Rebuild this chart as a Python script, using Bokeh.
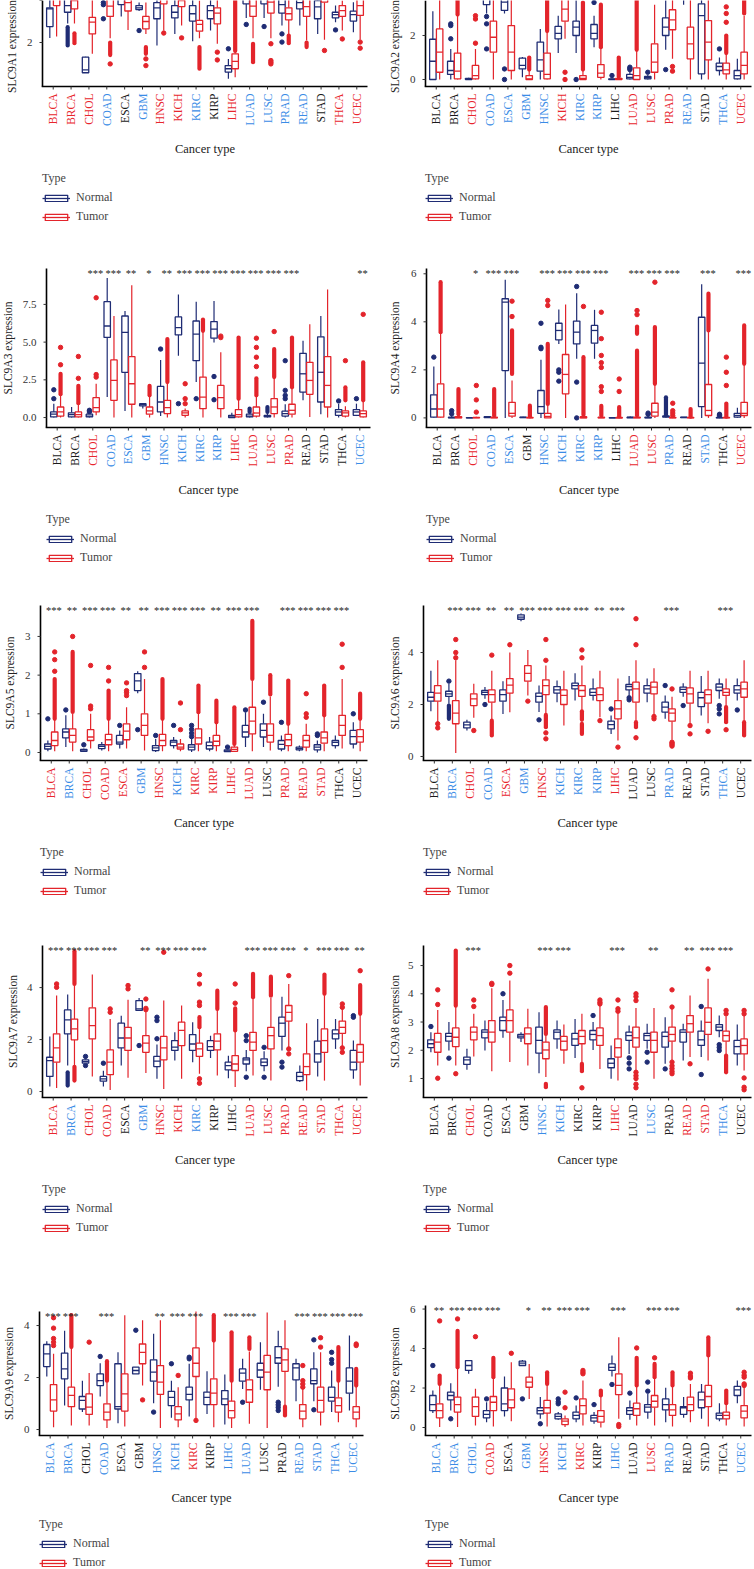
import numpy as np
from bokeh.plotting import figure
from bokeh.models import Legend, LegendItem, Range1d
from bokeh.layouts import gridplot
from bokeh.embed import file_html
from bokeh.resources import INLINE
from bokeh.core.properties import value

CANCERS = ["BLCA", "BRCA", "CHOL", "COAD", "ESCA", "GBM", "HNSC", "KICH", "KIRC",
           "KIRP", "LIHC", "LUAD", "LUSC", "PRAD", "READ", "STAD", "THCA", "UCEC"]

# each box: [lower whisker, q1, median, q3, upper whisker]
# outliers: numbers are single points, pairs are dense runs of points (from, to)

# ---------------- SLC9A1 ----------------
SLC9A1_N = [[2.22, 2.76, 3.60, 3.65, 4.4], [2.9, 3.44, 3.76, 4.1, 4.6], [0.55, 0.56, 0.70, 1.30, 1.32],
            [4.0, 4.3, 4.5, 4.7, 5.0], [3.24, 3.8, 4.1, 4.4, 4.9], [3.5, 3.57, 3.65, 3.76, 3.9],
            [1.86, 3.13, 3.65, 3.9, 4.6], [2.41, 3.17, 3.44, 3.76, 4.3], [2.06, 3.02, 3.37, 3.76, 4.5],
            [2.57, 3.13, 3.52, 3.76, 4.3], [0.27, 0.59, 0.75, 0.90, 1.22], [3.17, 3.84, 4.1, 4.4, 4.9],
            [3.17, 3.84, 4.1, 4.4, 4.9], [2.81, 3.40, 3.80, 4.1, 4.6], [2.81, 3.6, 3.9, 4.2, 4.6],
            [2.41, 3.13, 3.7, 4.0, 4.6], [2.97, 3.17, 3.33, 3.44, 3.76], [2.49, 3.02, 3.33, 3.49, 3.92]]
SLC9A1_T = [[2.29, 3.76, 4.1, 4.5, 5.3], [2.9, 3.6, 4.0, 4.4, 5.2], [1.46, 2.41, 2.97, 3.2, 4.2],
            [2.2, 3.24, 3.73, 4.2, 5.0], [2.6, 3.5, 3.9, 4.3, 5.0], [2.41, 2.65, 3.0, 3.24, 3.9],
            [2.57, 3.84, 4.2, 4.6, 5.3], [2.81, 3.71, 4.0, 4.3, 4.9], [2.2, 2.54, 2.86, 3.05, 4.0],
            [1.94, 2.89, 3.4, 3.65, 4.3], [0.35, 0.75, 1.1, 1.46, 1.55], [2.2, 3.24, 3.73, 4.1, 4.9],
            [2.2, 3.4, 3.92, 4.3, 5.0], [2.41, 3.08, 3.37, 3.65, 4.2], [2.1, 3.24, 3.71, 4.1, 4.8],
            [2.13, 3.92, 4.2, 4.6, 5.4], [2.57, 3.24, 3.52, 3.76, 4.0], [2.13, 3.29, 3.76, 4.2, 5.0]]
SLC9A1_NO = [[], [(1.86, 2.73)], [], [3.9, 3.8, 3.13], [], [2.57], [], [], [], [], [1.7], [2.86], [2.76],
             [2.41, 2.02], [], [], [2.6], []]
SLC9A1_TO = [[], [(1.97, 2.44)], [], [(1.4, 2.0), 0.98], [], [(1.46, 1.78), 1.22, 0.9], [2.45], [2.22],
             [(0.75, 1.78)], [1.54, 1.17], [(1.6, 4.0)], [(1.06, 1.94)], [1.94, 1.14, 1.06, 0.98],
             [(1.97, 2.33)], [(1.78, 2.0)], [1.62], [2.17], [2.02, 1.73]]
SLC9A1_STARS = [""] * 18
SLC9A1_LAB = "rrrbkbrrbkrbbbbkrr"

# ---------------- SLC9A2 ----------------
SLC9A2_N = [[0, 0, 0.83, 1.83, 3.1], [0, 0.23, 0.41, 0.83, 1.39], [0, 0, 0.02, 0.05, 0.08],
            [3.0, 3.4, 3.7, 4.1, 4.6], [3.0, 3.14, 3.52, 3.8, 4.2], [0.1, 0.48, 0.64, 0.97, 1.02],
            [0, 0.38, 0.89, 1.7, 2.3], [1.2, 1.85, 2.1, 2.41, 2.9], [1.2, 2.0, 2.38, 2.65, 3.6],
            [1.47, 1.85, 2.1, 2.5, 2.9], [0, 0, 0.01, 0.03, 0.06], [0, 0.03, 0.1, 0.23, 0.4],
            [0, 0.03, 0.08, 0.14, 0.2], [1.35, 2.0, 2.38, 2.8, 3.6], [3.4, 3.7, 4.0, 4.3, 4.7],
            [0, 0.26, 2.9, 3.44, 4.5], [0.18, 0.41, 0.59, 0.74, 1.0], [0, 0.03, 0.18, 0.41, 0.94]]
SLC9A2_T = [[0, 0.33, 1.24, 2.3, 4.6], [0, 0.03, 0.38, 1.2, 2.9], [0, 0.03, 0.18, 0.64, 1.39],
            [0, 1.24, 1.92, 2.65, 4.2], [0, 0.41, 1.24, 2.45, 4.4], [0, 0, 0.03, 0.18, 0.4],
            [0, 0.03, 0.23, 1.2, 2.15], [1.85, 2.65, 3.2, 3.8, 4.6], [0, 0, 0.05, 0.18, 0.4],
            [0, 0.1, 0.29, 0.68, 1.4], [0, 0, 0.01, 0.05, 0.1], [0, 0, 0.18, 0.53, 1.3],
            [0, 0.33, 0.79, 1.62, 3.4], [0.94, 2.26, 2.71, 3.17, 3.8], [0, 0.94, 1.62, 2.38, 3.9],
            [0, 0.89, 1.7, 2.68, 4.3], [0, 0.26, 0.44, 0.74, 1.17], [0, 0.26, 0.64, 1.24, 2.9]]
SLC9A2_NO = [[], [2.53, 2.45, 1.85], [], [2.86, 2.53, 1.39], [0.48, 0.0], [], [], [], [0.0], [3.5], [0.18],
             [0.45, 0.5, 0.56], [0.33], [0.45], [], [], [1.39], []]
SLC9A2_TO = [[], [(2.95, 4.0)], [1.65, 2.75, 2.9], [], [], [(0.45, 1.0)], [(2.2, 3.6)], [0.33, 0.0],
             [(0.45, 3.5)], [(1.47, 3.4)], [(0.12, 1.0)], [(1.35, 3.6)], [], [0.59, 0.38], [], [],
             [(1.2, 2.0), 2.6, 3.0, 3.3], [(3.0, 3.6)]]
SLC9A2_STARS = [""] * 18
SLC9A2_LAB = "kkrbbbbrbbkrrrbkbr"

# ---------------- SLC9A3 ----------------
SLC9A3_N = [[0, 0.04, 0.22, 0.37, 0.92], [0, 0.04, 0.2, 0.31, 0.7], [0, 0.04, 0.1, 0.22, 0.3],
            [1.36, 5.31, 6.07, 7.68, 9.25], [0.44, 3.0, 5.64, 6.73, 7.06], [0.6, 0.77, 0.85, 0.92, 0.92],
            [0.1, 0.37, 1.03, 2.06, 3.82], [4.1, 5.48, 5.96, 6.67, 8.16], [2.35, 3.77, 5.53, 6.4, 7.68],
            [4.98, 5.26, 5.86, 6.36, 7.72], [0, 0, 0.04, 0.15, 0.31], [0, 0.04, 0.1, 0.22, 0.35],
            [0, 0.04, 0.08, 0.15, 0.3], [0, 0.1, 0.26, 0.42, 0.88], [1.14, 1.69, 2.9, 4.26, 5.09],
            [0.22, 1.03, 3.0, 5.35, 6.73], [0, 0.15, 0.37, 0.53, 0.9], [0.1, 0.15, 0.37, 0.53, 0.92]]
SLC9A3_T = [[0, 0.1, 0.37, 0.7, 1.47], [0, 0.04, 0.2, 0.37, 0.92], [0.15, 0.37, 0.66, 1.32, 2.24],
            [0, 1.14, 2.46, 3.82, 6.73], [0, 0.88, 2.24, 4.04, 8.77], [0, 0.22, 0.44, 0.7, 1.4],
            [0, 0.26, 0.66, 1.14, 2.3], [0, 0.15, 0.31, 0.44, 0.6], [0, 0.59, 1.36, 2.68, 5.7],
            [0, 0.59, 1.32, 2.13, 4.32], [0, 0.04, 0.2, 0.53, 1.2], [0, 0.1, 0.3, 0.7, 1.4],
            [0, 0.26, 0.7, 1.25, 2.6], [0, 0.22, 0.48, 0.88, 1.95], [0.04, 1.54, 2.46, 3.66, 6.18],
            [0, 0.7, 2.13, 4.04, 8.49], [0, 0.1, 0.31, 0.44, 0.75], [0, 0.04, 0.26, 0.44, 1.1]]
SLC9A3_NO = [[1.25, 1.84], [], [0.48, 0.37], [], [], [], [4.54], [0.92], [1.25], [2.72, 1.18], [],
             [(0.37, 0.6)], [(0.37, 0.7)], [1.25, 1.47, 1.8, 3.77], [], [], [1.1], [1.25]]
SLC9A3_TO = [[(1.55, 2.9), 3.5, 4.65], [(0.95, 2.1), 2.6, 4.05], [2.68, 2.85, 7.94], [], [], [(1.47, 2.1)],
             [(2.35, 5.2)], [0.92, 1.25, 2.24], [(5.75, 6.5)], [5.3, 5.4], [(1.25, 5.3)],
             [(1.47, 2.6), 3.38, 4.0, 4.65, 5.26], [(2.68, 4.54), 5.7], [(2.0, 5.3)], [], [],
             [(1.14, 2.0), 3.77], [(1.14, 3.66), 6.84]]
SLC9A3_STARS = ["", "", "***", "***", "**", "*", "**", "***", "***", "***", "***", "***", "***", "***",
                "", "", "", "**"]
SLC9A3_LAB = "kkrbbbbbbbrrrrkkkb"

# ---------------- SLC9A4 ----------------
SLC9A4_N = [[0, 0.03, 0.37, 0.96, 2.14], [0, 0, 0.01, 0.03, 0.1], [0, 0, 0, 0.01, 0.02],
            [0, 0.01, 0.03, 0.05, 0.08], [0, 1.97, 4.82, 4.96, 5.75], [0, 0.01, 0.02, 0.03, 0.05],
            [0, 0.19, 0.47, 1.14, 2.42], [3.08, 3.25, 3.64, 3.94, 4.51], [2.46, 3.08, 3.57, 4.03, 5.19],
            [2.46, 3.11, 3.64, 3.85, 4.5], [0, 0, 0, 0.01, 0.02], [0, 0, 0.02, 0.03, 0.06],
            [0, 0, 0.01, 0.03, 0.08], [0, 0.03, 0.06, 0.08, 0.1], [0, 0.01, 0.02, 0.03, 0.04],
            [0, 0.47, 2.28, 4.19, 5.56], [0, 0, 0.01, 0.02, 0.04], [0, 0.03, 0.1, 0.19, 0.42]]
SLC9A4_T = [[0, 0.03, 0.37, 1.42, 3.5], [0, 0, 0.01, 0.05, 0.12], [0, 0, 0.01, 0.02, 0.05],
            [0, 0, 0.01, 0.03, 0.08], [0, 0.07, 0.19, 0.65, 1.56], [0, 0, 0.01, 0.02, 0.05],
            [0, 0, 0.06, 0.19, 0.55], [0, 1.0, 1.81, 2.64, 4.72], [0, 0, 0.01, 0.05, 0.1],
            [0, 0, 0.01, 0.03, 0.08], [0, 0, 0, 0.02, 0.05], [0, 0, 0.01, 0.03, 0.08],
            [0, 0.07, 0.24, 0.61, 1.4], [0, 0, 0.01, 0.02, 0.05], [0, 0, 0.01, 0.02, 0.04],
            [0, 0.1, 0.31, 1.39, 3.6], [0, 0, 0.01, 0.02, 0.04], [0, 0.1, 0.19, 0.65, 2.2]]
SLC9A4_NO = [[2.53], [0.17, 0.3], [], [], [], [], [2.88, 2.94, 3.94], [2.0, 1.9, 1.53], [5.47, 1.49, 0.0],
             [], [], [], [0.15, 0.2], [(0.12, 0.86)], [], [], [0.1, 0.15], []]
SLC9A4_TO = [[(3.57, 5.65)], [(0.15, 1.2)], [0.24, 0.75, 1.35], [(0.1, 1.2)], [(1.83, 3.64), 4.22, 4.86],
             [(0.06, 0.51)], [(0.58, 3.08), 4.68, 4.89], [], [(0.12, 2.53), 4.64],
             [(0.1, 0.5), 1.1, 1.3, 2.1, 2.3, 2.6, 3.3, 4.4], [(0.06, 0.45), 1.1, 1.62],
             [(0.1, 2.8), (3.5, 3.8), 4.3, 4.47], [(1.42, 3.78), 5.65], [0.1, 0.2, 0.3, 0.61],
             [(0.05, 0.37)], [(3.64, 5.17)], [(0.05, 0.6), 1.35, 1.9, 2.53], [(2.25, 3.85)]]
SLC9A4_STARS = ["", "", "*", "***", "***", "", "***", "***", "***", "***", "", "***", "***", "***", "",
                "***", "", "***"]
SLC9A4_LAB = "kkrbbkbbbbkrrbkbkr"

# ---------------- SLC9A5 ----------------
SLC9A5_N = [[0.03, 0.09, 0.16, 0.22, 0.31], [0.14, 0.38, 0.53, 0.61, 0.96], [0.02, 0.03, 0.06, 0.08, 0.1],
            [0.05, 0.1, 0.16, 0.2, 0.27], [0.1, 0.22, 0.27, 0.44, 0.57], [1.53, 1.6, 1.85, 2.04, 2.1],
            [0.01, 0.05, 0.12, 0.18, 0.35], [0.1, 0.18, 0.27, 0.31, 0.4], [0.01, 0.07, 0.14, 0.2, 0.4],
            [0.03, 0.09, 0.18, 0.27, 0.4], [0.01, 0.02, 0.04, 0.07, 0.1], [0.14, 0.4, 0.53, 0.7, 1.04],
            [0.14, 0.4, 0.57, 0.74, 1.0], [0.03, 0.09, 0.21, 0.31, 0.44], [0.03, 0.07, 0.1, 0.14, 0.18],
            [0, 0.07, 0.14, 0.2, 0.31], [0.1, 0.18, 0.26, 0.31, 0.44], [0.1, 0.22, 0.41, 0.57, 0.78]]
SLC9A5_T = [[0.03, 0.18, 0.31, 0.53, 0.84], [0.03, 0.27, 0.44, 0.61, 1.0], [0.1, 0.31, 0.4, 0.59, 1.0],
            [0.03, 0.2, 0.33, 0.47, 0.84], [0.1, 0.33, 0.55, 0.74, 1.17], [0.05, 0.44, 0.7, 1.0, 1.9],
            [0.03, 0.18, 0.31, 0.47, 0.84], [0.03, 0.09, 0.14, 0.22, 0.35], [0.03, 0.22, 0.38, 0.61, 1.0],
            [0.03, 0.18, 0.29, 0.44, 0.74], [0.02, 0.03, 0.08, 0.14, 0.2], [0.03, 0.48, 0.81, 1.17, 1.86],
            [0.05, 0.27, 0.44, 0.74, 1.45], [0.03, 0.18, 0.33, 0.47, 0.72], [0.03, 0.14, 0.31, 0.44, 0.74],
            [0.03, 0.24, 0.38, 0.53, 0.94], [0.1, 0.44, 0.7, 0.96, 1.9], [0.03, 0.27, 0.41, 0.59, 0.85]]
SLC9A5_NO = [[0.87], [1.1], [0.2], [], [0.7], [0.59], [0.44], [0.7], [0.41, 0.5, 0.6, 0.7], [], [0.14],
             [1.1], [1.3], [0.78], [], [0.44, 0.48], [], [1.0]]
SLC9A5_TO = [[(0.87, 1.9), 2.1, 2.4, 2.6], [(1.05, 2.6), 3.0], [1.13, 1.2, 2.25], [(0.87, 1.6), 1.85, 2.2],
             [1.47, 1.55, 1.6, 1.8], [2.2, 2.6], [(0.87, 1.9)], [0.59, 1.28], [(1.04, 1.73)],
             [(0.78, 1.34)], [(0.22, 1.17)], [(1.9, 3.4)], [(1.5, 2.0)], [(0.74, 1.86)],
             [0.91, 1.0, 1.52], [(0.96, 1.73)], [2.2, 2.8], [(0.87, 1.52)]]
SLC9A5_STARS = ["***", "**", "***", "***", "**", "**", "***", "***", "***", "**", "***", "***", "",
                "***", "***", "***", "***", ""]
SLC9A5_LAB = "rbrrrbrbrrrrkrrrkk"

# ---------------- SLC9A6 ----------------
SLC9A6_N = [[1.74, 2.13, 2.28, 2.47, 3.3], [2.03, 2.31, 2.41, 2.51, 2.8], [1.0, 1.1, 1.22, 1.32, 1.41],
            [2.22, 2.38, 2.47, 2.54, 2.67], [1.64, 2.13, 2.38, 2.56, 2.9], [5.2, 5.28, 5.36, 5.45, 5.5],
            [1.71, 2.09, 2.31, 2.44, 2.73], [2.09, 2.44, 2.56, 2.69, 2.92], [2.15, 2.6, 2.73, 2.82, 3.2],
            [2.15, 2.35, 2.47, 2.6, 3.0], [0.87, 1.06, 1.23, 1.36, 1.58], [2.35, 2.56, 2.69, 2.77, 3.1],
            [2.09, 2.44, 2.6, 2.73, 3.0], [1.45, 1.71, 1.9, 2.09, 2.35], [2.3, 2.47, 2.58, 2.67, 2.82],
            [1.58, 1.92, 2.26, 2.47, 3.1], [2.22, 2.54, 2.67, 2.79, 3.0], [2.15, 2.44, 2.56, 2.73, 3.0]]
SLC9A6_T = [[1.28, 2.13, 2.44, 2.73, 3.7], [0.13, 1.26, 1.67, 2.15, 3.7], [1.49, 1.96, 2.22, 2.41, 2.8],
            [1.4, 2.09, 2.38, 2.56, 3.3], [1.7, 2.44, 2.75, 3.0, 4.0], [2.35, 2.9, 3.2, 3.5, 4.1],
            [1.64, 2.38, 2.73, 2.95, 3.5], [1.19, 2.0, 2.35, 2.56, 3.3], [1.77, 2.31, 2.54, 2.73, 3.5],
            [1.51, 2.15, 2.38, 2.64, 3.3], [0.62, 1.45, 1.83, 2.15, 3.0], [1.38, 2.09, 2.6, 2.86, 3.7],
            [1.58, 2.41, 2.67, 2.86, 3.4], [0.64, 1.36, 1.67, 1.83, 2.3], [1.26, 2.05, 2.41, 2.64, 3.3],
            [1.28, 2.05, 2.38, 2.56, 3.3], [1.95, 2.35, 2.47, 2.6, 3.0], [1.38, 2.28, 2.6, 2.86, 3.7]]
SLC9A6_NO = [[], [(1.45, 1.96), 2.9], [], [2.0], [], [], [1.41], [], [], [], [1.83], [2.26, 2.18], [],
             [2.73], [1.96], [], [1.96, 1.83, 1.64], [1.79]]
SLC9A6_TO = [[1.26, 1.1], [3.8, 4.0, 4.5], [1.0], [(0.81, 1.38), 3.9], [4.3], [2.13],
             [(1.13, 1.6), 0.91, 0.68, 3.7, 4.5], [], [(1.41, 1.74), (0.87, 1.26), 3.8, 4.1], [1.38],
             [0.36], [(1.13, 1.32), 0.72, 4.3, 5.3], [1.54, 1.45], [0.55, 0.5, 0.45, 0.4, 2.6],
             [1.19, 0.87], [0.97], [(1.32, 1.9), 1.03], [(0.81, 1.32)]]
SLC9A6_STARS = ["", "***", "***", "**", "**", "***", "***", "***", "***", "**", "***", "", "", "***", "",
                "", "***", ""]
SLC9A6_LAB = "kbrbrbrbbbrkkbkkbk"

# ---------------- SLC9A7 ----------------
SLC9A7_N = [[0.19, 0.58, 1.19, 1.32, 2.12], [1.0, 2.22, 2.76, 3.14, 3.73], [1.05, 1.09, 1.15, 1.22, 1.28],
            [0.19, 0.4, 0.49, 0.58, 0.8], [1.0, 1.68, 2.06, 2.63, 2.92], [3.1, 3.12, 3.18, 3.5, 3.6],
            [0.49, 0.96, 1.17, 1.35, 1.81], [1.19, 1.58, 1.71, 1.96, 2.28], [1.13, 1.58, 1.83, 2.19, 2.67],
            [1.29, 1.58, 1.73, 1.96, 2.15], [0.51, 0.83, 1.0, 1.13, 1.38], [0.78, 1.06, 1.22, 1.29, 1.6],
            [0.78, 1.0, 1.13, 1.26, 1.55], [1.58, 2.12, 2.63, 2.86, 3.65], [0.37, 0.42, 0.58, 0.74, 1.0],
            [0.58, 1.13, 1.45, 1.94, 2.79], [1.64, 2.03, 2.22, 2.37, 2.79], [0.49, 0.83, 1.13, 1.58, 1.96]]
SLC9A7_T = [[0.14, 1.13, 1.68, 2.22, 3.7], [1.0, 1.99, 2.41, 2.79, 4.1], [0.58, 2.03, 2.54, 3.22, 4.5],
            [0.06, 0.65, 1.13, 1.6, 2.79], [0.53, 1.58, 2.06, 2.47, 3.53], [0.71, 1.51, 1.86, 2.15, 3.1],
            [0.1, 1.22, 1.68, 2.12, 3.5], [0.49, 1.77, 2.35, 2.67, 3.31], [0.68, 1.35, 1.64, 1.86, 2.4],
            [0.62, 1.6, 1.94, 2.22, 3.14], [0.17, 0.81, 1.06, 1.38, 2.3], [0.62, 1.58, 1.9, 2.28, 3.6],
            [0.42, 1.64, 2.15, 2.47, 3.6], [1.71, 2.71, 3.05, 3.31, 4.14], [0.04, 0.65, 0.96, 1.45, 2.63],
            [0.42, 1.51, 1.96, 2.41, 3.7], [1.7, 2.24, 2.47, 2.71, 3.2], [0.23, 1.13, 1.51, 1.81, 2.95]]
SLC9A7_NO = [[], [(0.23, 0.74)], [1.35, 1.0], [1.09], [], [1.77], [2.03, 2.73, 2.86], [], [], [], [],
             [2.15, 1.96, 0.55], [1.7, 0.55], [1.13, 0.94], [], [], [], [2.92, 2.86]]
SLC9A7_TO = [[4.01, 4.14], [(4.14, 5.4), (0.42, 0.95)], [], [3.05, 3.18], [3.95, 4.08], [3.15, 3.2, 3.56],
             [5.36], [], [(2.47, 2.86), 3.31, 3.44, 4.14, 4.5, 0.49, 0.32], [(3.18, 3.88)],
             [(2.35, 3.2), 3.4, 4.14], [(3.63, 4.53)], [(3.69, 4.42)], [1.64, 1.45, 4.46], [],
             [(3.76, 4.5)], [3.24, 3.37, 1.68, 1.51], [(2.99, 4.1), 4.65]]
SLC9A7_STARS = ["***", "***", "***", "***", "", "**", "***", "***", "***", "", "", "***", "***", "***",
                "*", "***", "***", "**"]
SLC9A7_LAB = "rbrrkbrrbkkrrrrrrr"

# ---------------- SLC9A8 ----------------
SLC9A8_N = [[1.93, 2.09, 2.23, 2.37, 2.64], [1.99, 2.32, 2.49, 2.6, 3.0], [1.31, 1.5, 1.66, 1.76, 2.05],
            [1.99, 2.44, 2.64, 2.72, 3.05], [2.44, 2.7, 3.05, 3.17, 3.78], [2.29, 2.44, 2.5, 2.56, 2.64],
            [1.19, 1.9, 2.35, 2.82, 3.35], [2.05, 2.4, 2.64, 2.72, 3.05], [1.73, 2.17, 2.4, 2.6, 3.11],
            [2.01, 2.37, 2.56, 2.7, 3.0], [0.99, 1.38, 1.54, 1.7, 2.17], [1.87, 2.35, 2.52, 2.64, 2.88],
            [2.05, 2.35, 2.52, 2.6, 2.94], [1.52, 2.11, 2.49, 2.64, 3.17], [1.64, 2.29, 2.64, 2.72, 2.94],
            [1.76, 2.17, 2.37, 2.68, 3.05], [2.46, 2.7, 2.82, 2.91, 3.23], [1.46, 1.87, 2.13, 2.35, 2.91]]
SLC9A8_T = [[1.46, 1.93, 2.29, 2.6, 3.43], [1.46, 2.13, 2.46, 2.79, 3.55], [1.78, 2.37, 2.64, 2.82, 3.29],
            [1.26, 2.29, 2.64, 3.05, 4.2], [1.58, 2.64, 3.05, 3.43, 4.47], [1.46, 2.23, 2.58, 2.79, 3.47],
            [1.05, 1.7, 2.01, 2.29, 2.55], [1.52, 2.01, 2.32, 2.49, 2.91], [1.55, 2.23, 2.49, 2.7, 3.29],
            [1.34, 2.17, 2.52, 2.79, 3.6], [0.93, 1.76, 2.09, 2.4, 3.3], [1.25, 2.11, 2.44, 2.82, 3.5],
            [0.99, 1.93, 2.35, 2.64, 3.5], [1.64, 2.32, 2.56, 2.82, 3.5], [1.76, 2.64, 2.94, 3.23, 3.94],
            [1.64, 2.56, 2.99, 3.5, 4.53], [1.85, 2.32, 2.52, 2.68, 3.2], [1.28, 1.87, 2.17, 2.4, 3.25]]
SLC9A8_NO = [[2.84], [1.72], [], [], [4.0], [], [], [], [], [3.23], [], [1.73, 1.54, 1.34], [1.93, 1.58],
             [1.34], [], [3.55, 1.14], [2.2, 2.1, 1.99], []]
SLC9A8_TO = [[3.62, 4.14, 1.01], [(3.58, 5.53), 1.17], [3.55, 3.78], [4.33, 4.37], [4.73, 5.0], [],
             [(2.58, 3.53), (0.69, 0.81)], [], [(1.26, 1.52), 0.67], [3.64, 3.7, 3.78], [3.38, 3.47, 3.78],
             [1.22, 1.1, 1.0, 0.8, 0.67, 3.76, 3.9, 4.0], [], [3.53, 4.14, 1.58, 1.45, 1.35, 1.25, 1.17],
             [1.52], [4.88], [(1.22, 1.81), 3.29, 3.41], [3.29, 3.41, 1.02, 0.69, 0.6]]
SLC9A8_STARS = ["", "", "***", "", "", "", "***", "***", "", "", "***", "", "**", "", "**", "***", "***",
                ""]
SLC9A8_LAB = "kkrkkkbbkkrkbkrrbk"

# ---------------- SLC9A9 ----------------
SLC9A9_N = [[2.04, 2.42, 2.91, 3.27, 3.4], [0.92, 1.95, 2.33, 2.94, 3.8], [0.67, 0.79, 1.12, 1.27, 1.88],
            [1.27, 1.69, 1.88, 2.14, 2.55], [0.24, 0.79, 0.88, 2.53, 2.97], [2.14, 2.14, 2.27, 2.4, 2.4],
            [1.01, 1.86, 2.21, 2.68, 3.68], [0.45, 0.92, 1.24, 1.47, 1.88], [0.5, 1.14, 1.35, 1.63, 2.53],
            [0.6, 0.96, 1.24, 1.44, 2.24], [0.19, 0.96, 1.18, 1.5, 2.12], [1.56, 1.86, 2.17, 2.33, 2.72],
            [1.53, 2.01, 2.29, 2.55, 3.36], [1.65, 2.55, 2.76, 3.19, 3.8], [1.09, 1.91, 2.37, 2.53, 2.72],
            [1.09, 1.76, 1.88, 2.33, 2.97], [0.67, 1.09, 1.24, 1.63, 2.27], [0.73, 1.4, 1.86, 2.37, 3.62]]
SLC9A9_T = [[0.09, 0.71, 1.14, 1.73, 2.91], [0.15, 0.88, 1.31, 1.63, 3.1], [0.15, 0.58, 0.86, 1.37, 2.17],
            [0.06, 0.37, 0.67, 0.99, 1.85], [0.12, 0.71, 1.37, 2.14, 4.4], [1.69, 2.53, 2.97, 3.29, 4.2],
            [0.06, 1.35, 1.82, 2.46, 4.2], [0.09, 0.37, 0.6, 0.88, 1.63], [0.4, 2.04, 2.55, 3.14, 4.8],
            [0.09, 0.96, 1.4, 1.95, 3.4], [0.06, 0.45, 0.73, 1.09, 1.85], [0.22, 1.05, 1.53, 1.91, 3.0],
            [0.06, 1.53, 2.21, 2.85, 4.5], [0.9, 2.24, 2.68, 3.1, 4.2], [0.09, 0.41, 0.71, 0.96, 1.6],
            [0.15, 0.67, 1.12, 1.63, 2.97], [0.28, 0.67, 0.92, 1.22, 1.85], [0.09, 0.41, 0.67, 0.88, 1.65]]
SLC9A9_NO = [[], [], [], [2.81], [], [3.82], [0.67], [2.53], [2.72, 2.78], [], [], [1.05], [],
             [1.05, 0.95, 0.85, 0.73], [], [3.45, 0.76], [2.55, 2.69, 2.97], []]
SLC9A9_TO = [[3.23, 3.36, 3.5, 3.9, 4.3], [(3.17, 4.4)], [3.36], [(1.88, 2.63)], [], [1.14], [], [2.08],
             [0.35], [(3.42, 4.4)], [(1.88, 3.74)], [(3.1, 3.55)], [], [(0.54, 0.88)],
             [1.63, 1.75, 1.88, 2.46], [3.17, 3.53], [(1.88, 3.17)], [(1.69, 2.33), 3.23, 3.29]]
SLC9A9_STARS = ["***", "***", "", "***", "", "", "**", "***", "***", "", "***", "***", "", "", "***",
                "***", "***", "***"]
SLC9A9_LAB = "bbkbkkbbrkbbkkbbbb"

# ---------------- SLC9B2 ----------------
SLC9B2_N = [[0.73, 0.86, 1.16, 1.62, 1.87], [0.86, 1.4, 1.62, 1.79, 2.24], [2.72, 2.89, 3.14, 3.39, 3.39],
            [0.27, 0.49, 0.66, 0.86, 1.28], [0.56, 0.86, 1.2, 2.0, 2.58], [3.14, 3.14, 3.26, 3.36, 3.42],
            [0.44, 0.69, 0.86, 1.0, 1.54], [0.39, 0.44, 0.56, 0.69, 0.78], [0.27, 0.44, 0.61, 0.78, 1.11],
            [0.19, 0.32, 0.49, 0.61, 0.78], [2.58, 2.89, 3.05, 3.22, 3.65], [0.39, 0.66, 0.86, 1.0, 1.37],
            [0.44, 0.78, 1.03, 1.16, 1.7], [0.27, 0.89, 1.16, 1.45, 2.01], [0.49, 0.66, 1.0, 1.06, 1.54],
            [0.44, 1.0, 1.4, 1.79, 2.21], [0.32, 0.44, 0.61, 0.73, 1.23], [1.23, 1.62, 1.91, 2.08, 2.38]]
SLC9B2_T = [[0.02, 0.49, 0.86, 1.2, 2.15], [0.02, 0.78, 1.16, 1.54, 3.0], [0.1, 0.56, 1.06, 1.54, 1.96],
            [0.05, 0.86, 1.28, 1.57, 2.5], [0.32, 1.0, 1.4, 1.96, 3.31], [1.45, 2.04, 2.3, 2.55, 3.22],
            [0.05, 0.73, 1.0, 1.37, 2.15], [0.02, 0.15, 0.32, 0.44, 0.61], [0.1, 0.69, 1.11, 1.45, 2.38],
            [0, 0.27, 0.56, 0.86, 1.6], [0.44, 1.67, 2.13, 2.72, 4.57], [0.1, 0.61, 0.95, 1.23, 2.1],
            [0.1, 1.03, 1.33, 1.62, 2.5], [0.05, 0.61, 0.89, 1.16, 2.1], [0.27, 0.86, 1.16, 1.54, 2.21],
            [0.05, 1.06, 1.57, 2.13, 3.6], [0.1, 0.44, 0.61, 0.78, 1.2], [0.05, 0.49, 0.83, 1.11, 2.1]]
SLC9B2_NO = [[3.14], [0.44], [], [1.45], [], [1.45], [0.19], [1.2, 1.3, 1.45], [1.5], [1.16], [2.18], [1.74],
             [1.84, 2.3], [], [], [], [], []]
SLC9B2_TO = [[(2.21, 2.63), 5.4], [(3.05, 4.9), 5.5, 7.0], [4.6], [(2.55, 3.53)], [3.76], [], [(2.21, 2.8)],
             [1.0, 1.79], [2.72, 2.8, 2.89], [(1.62, 1.87)], [0.15, 0.05], [(2.13, 3.53), 4.03],
             [(2.55, 3.22), 3.53], [(2.13, 2.8)], [2.51, 2.6, 2.75], [(3.65, 4.57)], [(1.23, 1.87)],
             [2.13, 2.21, 2.55, 2.65, 2.8]]
SLC9B2_STARS = ["**", "***", "***", "***", "", "*", "**", "***", "***", "", "***", "", "***", "***", "", "",
                "", "***"]
SLC9B2_LAB = "bbbrkbrbrkbkrbkkkb"

# ---------------- styling / layout ----------------
FONT = "Liberation Serif"
NAVY = "#1f2c74"
RED = "#e3242b"
LABCOL = {"r": "#e8262d", "b": "#3a8ce6", "k": "#1a1a1a"}
BW = 0.36
OFF = 0.19
W = 377

# rows: (figure height, px above plot area, plot-area height, legend top below x axis)
ROWS = [(250, 0, 86, 85), (340, 18, 159, 85), (338, 15, 155, 85), (367, 17, 152, 85), (273, 16, 124, 82)]
# panels: (px left of y axis, px right of plot area, x of y-axis title centre, extra px of plot area on top)
COLS = [(42, 10, 11, 0), (48, 3, 17.5, 0), (46, 7, 7.5, 0), (49, 3, 17.5, 0), (40, 10, 9, 0),
        (46, 3, 17, 0), (42, 10, 12, 0), (46, 3, 17, 0), (39, 14, 8, 0), (48, 3, 17.5, 6)]

PANELS = [
    ("SLC9A1", SLC9A1_N, SLC9A1_T, SLC9A1_NO, SLC9A1_TO, SLC9A1_STARS, SLC9A1_LAB, (-0.095, 4.0), [2, 4], "0"),
    ("SLC9A2", SLC9A2_N, SLC9A2_T, SLC9A2_NO, SLC9A2_TO, SLC9A2_STARS, SLC9A2_LAB, (-0.318, 3.59), [0, 2], "0"),
    ("SLC9A3", SLC9A3_N, SLC9A3_T, SLC9A3_NO, SLC9A3_TO, SLC9A3_STARS, SLC9A3_LAB, (-0.66, 9.88), [0, 2.5, 5, 7.5], "0.0"),
    ("SLC9A4", SLC9A4_N, SLC9A4_T, SLC9A4_NO, SLC9A4_TO, SLC9A4_STARS, SLC9A4_LAB, (-0.40, 6.22), [0, 2, 4, 6], "0"),
    ("SLC9A5", SLC9A5_N, SLC9A5_T, SLC9A5_NO, SLC9A5_TO, SLC9A5_STARS, SLC9A5_LAB, (-0.207, 3.80), [0, 1, 2, 3], "0"),
    ("SLC9A6", SLC9A6_N, SLC9A6_T, SLC9A6_NO, SLC9A6_TO, SLC9A6_STARS, SLC9A6_LAB, (-0.154, 5.81), [0, 2, 4], "0"),
    ("SLC9A7", SLC9A7_N, SLC9A7_T, SLC9A7_NO, SLC9A7_TO, SLC9A7_STARS, SLC9A7_LAB, (-0.23, 5.62), [0, 2, 4], "0"),
    ("SLC9A8", SLC9A8_N, SLC9A8_T, SLC9A8_NO, SLC9A8_TO, SLC9A8_STARS, SLC9A8_LAB, (0.327, 5.71), [1, 2, 3, 4, 5], "0"),
    ("SLC9A9", SLC9A9_N, SLC9A9_T, SLC9A9_NO, SLC9A9_TO, SLC9A9_STARS, SLC9A9_LAB, (-0.23, 4.54), [0, 2, 4], "0"),
    ("SLC9B2", SLC9B2_N, SLC9B2_T, SLC9B2_NO, SLC9B2_TO, SLC9B2_STARS, SLC9B2_LAB, (-0.405, 6.18), [0, 2, 4, 6], "0"),
]


def make_panel(idx):
    gene, N, T, NO, TO, stars, lab, yr, ticks, fmt = PANELS[idx]
    r = idx // 2
    h, bt, hp, legtop = ROWS[r]
    bl, br, lx, dtop = COLS[idx]
    bt, hp = bt - dtop, hp + dtop
    hb = h - bt - hp
    y0, y1 = yr
    upx = (y1 - y0) / hp                    # data units per pixel (y)
    ux = 18.2 / (W - bl - br)               # data units per pixel (x)
    xl = 0.4 - bl * ux
    xr = 18.6 + br * ux
    ybot = y0 - hb * upx
    ytop = y1 + bt * upx
    p = figure(width=W, height=h, output_backend="svg", toolbar_location=None,
               x_range=Range1d(xl, xr), y_range=Range1d(ybot, ytop),
               x_axis_location=None, y_axis_location=None, min_border=0)
    p.outline_line_color = None
    p.grid.visible = False
    p.background_fill_color = "white"

    xs = np.arange(1, 19, dtype=float)
    items = []
    for grp, data, outs, color, off in (("Normal", N, NO, NAVY, -OFF), ("Tumor", T, TO, RED, OFF)):
        arr = np.array(data, dtype=float)
        x = xs + off
        lo, q1, md, q3, hi = arr.T
        px, py, bx, b0, b1 = [], [], [], [], []
        for i, o in enumerate(outs):
            for v in o:
                if isinstance(v, (list, tuple)):
                    bx.append(x[i]); b0.append(v[0]); b1.append(v[1])
                else:
                    px.append(x[i]); py.append(v)
        if bx:
            p.segment(bx, b0, bx, b1, line_width=4.2, line_cap="round", color=color)
        if px:
            p.scatter(px, py, size=4.4, color=color, line_color=color)
        p.segment(x, q3, x, hi, color=color, line_width=1.2)
        p.segment(x, lo, x, q1, color=color, line_width=1.2)
        box = p.quad(left=x - BW / 2, right=x + BW / 2, bottom=q1, top=q3, fill_color="white",
                     line_color=color, line_width=1.3)
        med = p.segment(x - BW / 2, md, x + BW / 2, md, color=color, line_width=1.3)
        items.append(LegendItem(label=grp, renderers=[box, med]))

    # white masks outside the plot area so nothing spills over
    p.quad(left=[xl], right=[0.4], bottom=[ybot], top=[ytop], fill_color="white", line_color=None)
    p.quad(left=[xl], right=[xr], bottom=[ybot], top=[y0], fill_color="white", line_color=None)
    if bt > 0:
        p.quad(left=[xl], right=[xr], bottom=[y1], top=[ytop], fill_color="white", line_color=None)

    # significance stars
    sx = [i + 1 + 0.15 for i, s in enumerate(stars) if s]
    st = [s for s in stars if s]
    if st:
        p.text(x=sx, y=[y1 + 1 * upx] * len(sx), text=st, text_font=value(FONT), text_font_size="10.5px",
               text_align="center", text_baseline="top", text_color="#222222")

    # axes lines
    p.segment([0.4 - 0.8 * ux], [y0], [18.6], [y0], color="black", line_width=1.6)
    p.segment([0.4], [y0], [0.4], [ytop if r == 0 else y1], color="black", line_width=1.6)
    # x ticks and coloured category labels
    p.segment(xs, [y0] * 18, xs, [y0 - 3 * upx] * 18, color="#333333", line_width=1)
    p.text(x=xs, y=[y0 - 7 * upx] * 18, text=CANCERS, angle=np.pi / 2, text_align="right",
           text_baseline="middle", text_font=value(FONT), text_font_size="11.5px",
           text_color=[LABCOL[ch] for ch in lab])
    p.text(x=[9.5], y=[y0 - 62 * upx], text=["Cancer type"], text_align="center",
           text_baseline="middle", text_font=value(FONT), text_font_size="12.5px", text_color="#222222")

    # y ticks, labels and title
    tk = [t for t in ticks if y0 <= t <= ytop]
    p.segment([0.4 - 3 * ux] * len(tk), tk, [0.4] * len(tk), tk, color="#333333", line_width=1)
    tl = [t for t in tk if (ytop - t) / upx >= 6]
    p.text(x=[0.4 - 10 * ux] * len(tl), y=tl, text=[(f"{t:.1f}" if fmt == "0.0" else f"{t:g}") for t in tl],
           text_align="right", text_baseline="middle", text_font=value(FONT), text_font_size="11px",
           text_color="#333333")
    ymid = (ytop - 46 * upx) if r == 0 else (y0 + y1 - dtop * upx) / 2
    p.text(x=[xl + lx * ux], y=[ymid], text=[gene + " expression"], angle=np.pi / 2, text_align="center",
           text_baseline="middle", text_font=value(FONT), text_font_size="11.5px", text_color="#222222")

    LH = 53
    leg = Legend(items=items, location=(bl, hb - legtop - LH), title="Type", orientation="vertical",
                 title_text_font=FONT, title_text_font_size="12px", title_text_font_style="normal",
                 title_standoff=4, label_text_font=FONT, label_text_font_size="12px",
                 label_height=15, glyph_height=8, glyph_width=28, label_standoff=6, spacing=4,
                 padding=0, margin=0, border_line_color=None, background_fill_alpha=0)
    p.add_layout(leg)
    return p


figs = [make_panel(i) for i in range(10)]
grid = gridplot([[figs[2 * r], figs[2 * r + 1]] for r in range(5)], toolbar_location=None)
open("out.html", "w").write(file_html(grid, INLINE))
